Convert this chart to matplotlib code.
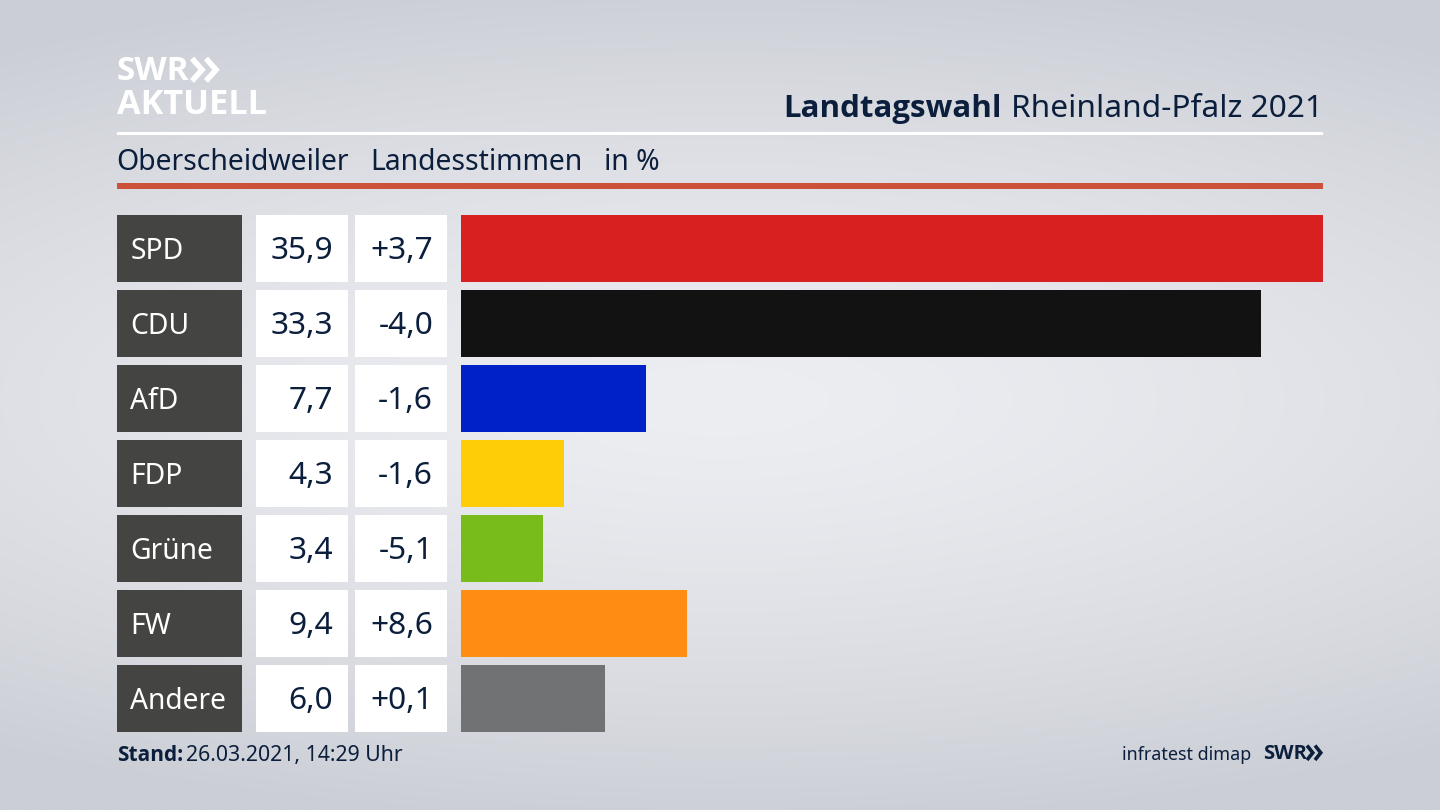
import numpy as np
import matplotlib
matplotlib.use("Agg")
import matplotlib.pyplot as plt
from matplotlib.patches import Rectangle

parties = ["SPD", "CDU", "AfD", "FDP", "Grüne", "FW", "Andere"]
shares = [35.9, 33.3, 7.7, 4.3, 3.4, 9.4, 6.0]
share_labels = ["35,9", "33,3", "7,7", "4,3", "3,4", "9,4", "6,0"]
change_labels = ["+3,7", "-4,0", "-1,6", "-1,6", "-5,1", "+8,6", "+0,1"]
colors = ["#d7201f", "#121212", "#0021c8", "#ffcd07", "#78bc1b", "#ff8d14", "#717274"]

W, H = 1440, 810
FONT = "Noto Sans"
BOLD = "Open Sans"
NAVY = "#0b1f3d"
plt.rcParams["font.family"] = [FONT, "DejaVu Sans"]

fig = plt.figure(figsize=(W / 100, H / 100), dpi=100)
bg = fig.add_axes([0, 0, 1, 1])
bg.axis("off")

# background: soft light glow in the middle, darker to the edges
yy, xx = np.mgrid[0:H:162j, 0:W:288j]
d = np.sqrt(((xx - 720) / 1300) ** 2 + ((yy - 400) / 430) ** 2)
t = np.clip(d, 0, 1) ** 1.4
c0 = np.array([0xed, 0xee, 0xf2]) / 255
c1 = np.array([0xcb, 0xce, 0xd5]) / 255
img = c0[None, None, :] * (1 - t[..., None]) + c1[None, None, :] * t[..., None]
bg.imshow(img, extent=(0, W, H, 0), aspect="auto", zorder=0, interpolation="bilinear")
bg.set_xlim(0, W)
bg.set_ylim(H, 0)

def rect(x0, y0, x1, y1, color):
    bg.add_patch(Rectangle((x0, y0), x1 - x0, y1 - y0, facecolor=color, edgecolor="none", zorder=1))

def chevrons(x0, x1, y0, y1, lw, color):
    w = (x1 - x0) / 2
    hw = w * 0.72
    for off in (0, w):
        bg.plot([x0 + off, x0 + off + hw, x0 + off], [y0, (y0 + y1) / 2, y1], color=color, lw=lw,
                solid_joinstyle="miter", solid_capstyle="butt", zorder=2)

# header
bg.text(117, 71, "SWR", color="white", fontsize=24, fontweight="bold", va="center", ha="left", family=BOLD, zorder=2)
chevrons(192, 220, 58.5, 81, 4, "white")
bg.text(117, 104.5, "AKTUELL", color="white", fontsize=24.7, fontweight="bold", va="center", ha="left", family=BOLD, zorder=2)
rect(117, 132, 1323, 135, "white")
t2 = bg.text(1323, 109, "Rheinland-Pfalz 2021", color=NAVY, fontsize=22.8, va="center", ha="right", zorder=2)
fig.canvas.draw()
ext = t2.get_window_extent()
bg.text(ext.x0 - 9, 109, "Landtagswahl", color=NAVY, fontsize=22.5, fontweight="bold", va="center", ha="right", family=BOLD, zorder=2)
bg.text(116, 162, "Oberscheidweiler", color=NAVY, fontsize=20.4, va="center", ha="left", zorder=2)
bg.text(370, 162, "Landesstimmen", color=NAVY, fontsize=20.4, va="center", ha="left", zorder=2)
bg.text(604, 162, "in %", color=NAVY, fontsize=20.4, va="center", ha="left", zorder=2)
rect(117, 183, 1323, 189, "#cd5039")

# rows
tops = [215, 290, 365, 440, 515, 590, 665]
rh = 66.5
for party, s, c, top in zip(parties, share_labels, change_labels, tops):
    rect(117, top, 241.5, top + rh, "#444442")
    rect(255.5, top, 348, top + rh, "white")
    rect(355, top, 447, top + rh, "white")
    mid = top + rh / 2 + 3
    bg.text(130.5, mid, party, color="white", fontsize=20.3, va="center", ha="left", zorder=2)
    bg.text(333, mid, s, color=NAVY, fontsize=22.8, va="center", ha="right", zorder=2)
    bg.text(433, mid, c, color=NAVY, fontsize=22.8, va="center", ha="right", zorder=2)

# bars, drawn through their own value scale
ax = fig.add_axes([461 / W, 1 - 731.5 / H, (1323 - 461) / W, (731.5 - 215) / H])
ax.patch.set_alpha(0)
ax.set_xlim(0, 35.9)
ax.set_ylim((731.5 - 248.25) / 75, (215 - 248.25) / 75)
ax.barh(range(len(shares)), shares, height=66.5 / 75, color=colors)
ax.axis("off")

# footer
t3 = bg.text(117, 755.5, "Stand:", color=NAVY, fontsize=15, fontweight="bold", va="center", ha="left", family=BOLD, zorder=2)
fig.canvas.draw()
ext3 = t3.get_window_extent()
bg.text(ext3.x1 + 3, 756, "26.03.2021, 14:29 Uhr", color=NAVY, fontsize=15.3, va="center", ha="left", zorder=2)
bg.text(1251, 755, "infratest dimap", color=NAVY, fontsize=12.9, va="center", ha="right", zorder=2)
bg.text(1263, 754, "SWR", color=NAVY, fontsize=14.5, fontweight="bold", va="center", ha="left", family=BOLD, zorder=2)
chevrons(1307, 1323, 745.5, 760, 2.6, NAVY)

fig.savefig("out.png", dpi=100)
